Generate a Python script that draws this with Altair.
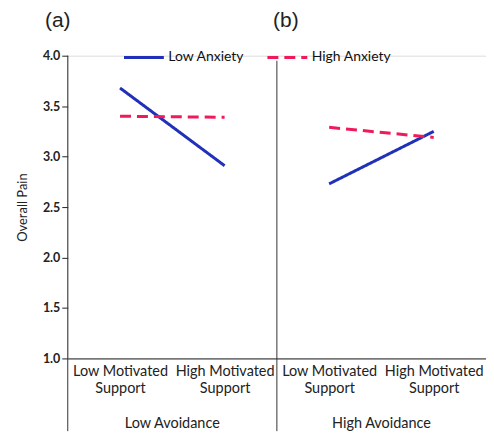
import altair as alt
import pandas as pd

# ---- data ----
positions = [0.5, 1.5, 0.5, 1.5, 2.5, 3.5, 2.5, 3.5]
support = ["Low Motivated|Support", "High Motivated|Support"] * 4
avoidance = ["Low Avoidance"] * 4 + ["High Avoidance"] * 4
anxiety = ["Low Anxiety", "Low Anxiety", "High Anxiety", "High Anxiety"] * 2
pain = [3.68, 2.91, 3.40, 3.39, 2.73, 3.25, 3.29, 3.19]

tick_values = [0.5, 1.5, 2.5, 3.5]
tick_labels = ["Low Motivated|Support", "High Motivated|Support",
               "Low Motivated|Support", "High Motivated|Support"]
group_x = [1, 3]
group_names = ["Low Avoidance", "High Avoidance"]
divider_x = [0, 2]
divider_top = [4.0, 3.95]
panel_x = [0, 2]
panel_names = ["(a)", "(b)"]

df = pd.DataFrame({
    "pos": positions, "support": support, "avoidance": avoidance,
    "anxiety": anxiety, "pain": pain,
})
df["grp"] = df["avoidance"] + df["anxiety"]

W, H = 420, 304
FONT = "Lato"

label_map = "{" + ",".join(f"'{v}':'{l}'" for v, l in zip(tick_values, tick_labels)) + "}"

x_scale = alt.Scale(domain=[0, 4])
y_scale = alt.Scale(domain=[1, 4])

lines = alt.Chart(df).mark_line(strokeWidth=3).encode(
    x=alt.X("pos:Q", scale=x_scale, title=None,
            axis=alt.Axis(values=tick_values, grid=False, ticks=False,
                          labelExpr=f"split({label_map}[datum.value + ''] || '', '|')",
                          labelFontSize=14.5, labelPadding=6, labelLineHeight=17,
                          labelColor="#222", labelFont=FONT, domainColor="#222",
                          labelBaseline="top")),
    y=alt.Y("pain:Q", scale=y_scale, title="Overall Pain",
            axis=alt.Axis(values=[1, 1.5, 2, 2.5, 3, 3.5, 4], format=".1f", grid=False,
                          domain=False, tickColor="#222", tickSize=6,
                          labelFontSize=12.5, labelFontWeight="bold", labelColor="#222",
                          labelFont=FONT, titleFont=FONT, titleFontSize=13,
                          titleFontWeight="normal", titleColor="#222", titlePadding=13)),
    color=alt.Color("anxiety:N",
                    scale=alt.Scale(domain=["Low Anxiety", "High Anxiety"],
                                    range=["#2030b8", "#f01a5a"]),
                    legend=alt.Legend(title=None, orient="none", direction="horizontal",
                                      legendX=55, legendY=-20, symbolType="stroke",
                                      symbolSize=1600, symbolStrokeWidth=3,
                                      labelFont=FONT, labelFontSize=14,
                                      labelFontWeight="normal", labelColor="#111",
                                      columnPadding=16, labelOffset=3)),
    strokeDash=alt.StrokeDash("anxiety:N",
                              scale=alt.Scale(domain=["Low Anxiety", "High Anxiety"],
                                              range=[[1, 0], [11, 6]]),
                              legend=alt.Legend(title=None, orient="none",
                                                direction="horizontal",
                                                legendX=55, legendY=-20)),
    detail="grp:N",
)

rules_df = pd.DataFrame({"x": divider_x, "top": divider_top})
rules = alt.Chart(rules_df).mark_rule(color="#333", strokeWidth=1).encode(
    x=alt.X("x:Q", scale=x_scale),
    y=alt.Y("top:Q", scale=y_scale),
    y2=alt.value(H + 73),
)

groups_df = pd.DataFrame({"x": group_x, "name": group_names})
groups = alt.Chart(groups_df).mark_text(fontSize=14.5, font=FONT, color="#222").encode(
    x=alt.X("x:Q", scale=x_scale),
    y=alt.value(H + 66),
    text="name:N",
)

panels_df = pd.DataFrame({"x": panel_x, "name": panel_names})
panel_a = alt.Chart(panels_df.iloc[[0]]).mark_text(
    fontSize=21, font="Liberation Sans", color="#222", dx=-10).encode(
    x=alt.X("x:Q", scale=x_scale), y=alt.value(-35), text="name:N")
panel_b = alt.Chart(panels_df.iloc[[1]]).mark_text(
    fontSize=21, font="Liberation Sans", color="#222", dx=9).encode(
    x=alt.X("x:Q", scale=x_scale), y=alt.value(-35), text="name:N")

chart = alt.layer(lines, rules, groups, panel_a, panel_b).properties(
    width=W, height=H,
    autosize=alt.AutoSizeParams(type="none"),
    padding={"left": 60, "top": 47, "right": 0, "bottom": 80},
).configure_view(stroke=None).configure(background="white")

chart.save("out.html", embed_options={"renderer": "svg", "actions": False})
